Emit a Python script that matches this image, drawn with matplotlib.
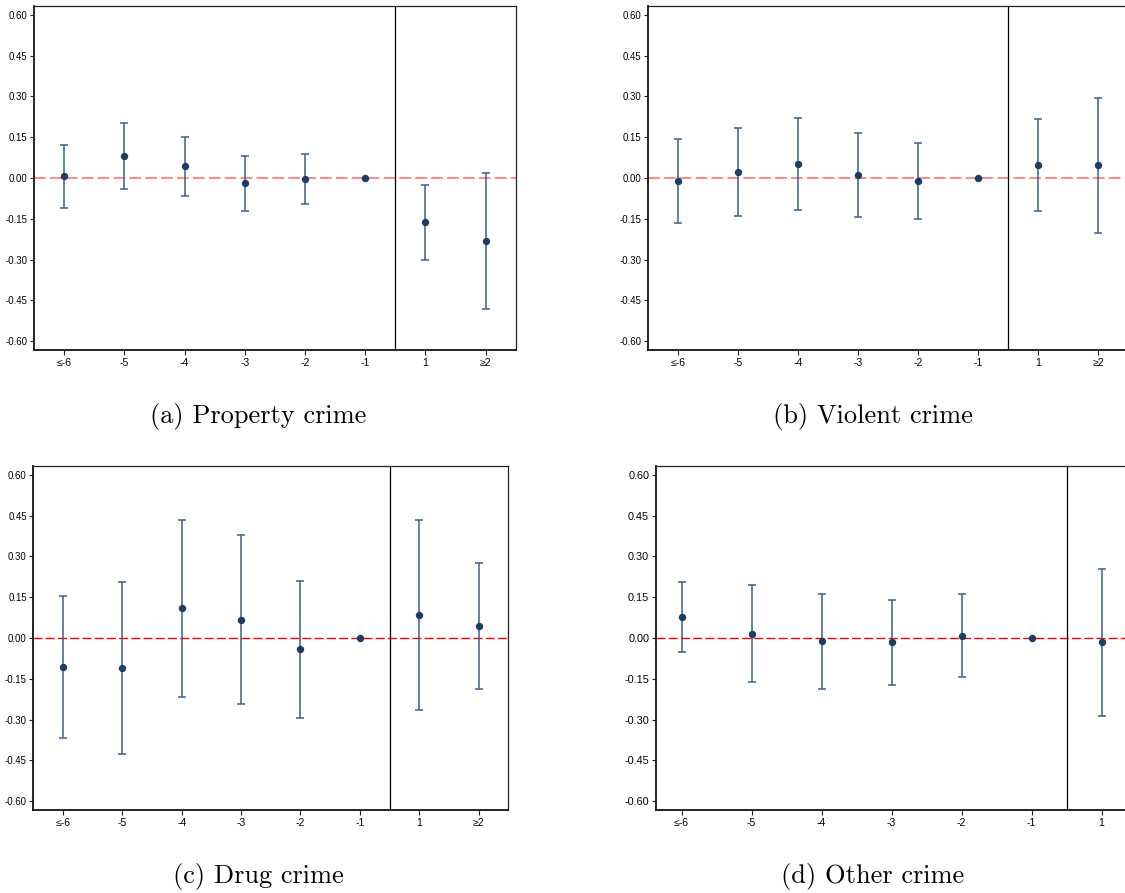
import matplotlib
matplotlib.use("Agg")
import matplotlib.pyplot as plt
import numpy as np

plt.rcParams['axes.unicode_minus'] = False

# ---------------- data ----------------
categories = ["≤-6", "-5", "-4", "-3", "-2", "-1", "1", "≥2"]
yticks = [-0.60, -0.45, -0.30, -0.15, 0.00, 0.15, 0.30, 0.45, 0.60]

property_est = [0.006, 0.080, 0.043, -0.020, -0.002, 0.0, -0.163, -0.232]
property_hi = [0.122, 0.201, 0.150, 0.082, 0.088, 0.0, -0.024, 0.018]
property_lo = [-0.111, -0.040, -0.065, -0.121, -0.094, 0.0, -0.300, -0.483]

violent_est = [-0.010, 0.022, 0.051, 0.011, -0.010, 0.0, 0.048, 0.046]
violent_hi = [0.145, 0.184, 0.221, 0.166, 0.130, 0.0, 0.216, 0.293]
violent_lo = [-0.165, -0.139, -0.118, -0.143, -0.150, 0.0, -0.120, -0.201]

drug_est = [-0.107, -0.110, 0.109, 0.067, -0.041, 0.0, 0.083, 0.045]
drug_hi = [0.155, 0.205, 0.434, 0.377, 0.210, 0.0, 0.432, 0.276]
drug_lo = [-0.368, -0.427, -0.216, -0.243, -0.293, 0.0, -0.266, -0.187]

other_est = [0.078, 0.016, -0.012, -0.016, 0.007, 0.0, -0.016]
other_hi = [0.207, 0.195, 0.163, 0.139, 0.161, 0.0, 0.255]
other_lo = [-0.051, -0.163, -0.187, -0.171, -0.145, 0.0, -0.285]

captions = ["(a) Property crime", "(b) Violent crime", "(c) Drug crime", "(d) Other crime"]

# ---------------- figure ----------------
W, H = 1125, 893
fig = plt.figure(figsize=(W / 100, H / 100), dpi=100)

def px_axes(left, top, right, bottom):
    return fig.add_axes([left / W, 1 - bottom / H, (right - left) / W, (bottom - top) / H])

MARK = '#1b3d63'
BAR = '#3d5f88'
TICKFONT = ['Liberation Sans', 'DejaVu Sans']


def panel(ax, est, hi, lo, xlim, fs, xfs, red_lw, red_col):
    n = len(est)
    x = np.arange(1, n + 1)
    est = np.array(est)
    hi = np.array(hi)
    lo = np.array(lo)
    ax.axhline(0, color=red_col, lw=red_lw, linestyle=(0, (6.5, 2.3)), zorder=1)
    ax.axvline(6.5, color='black', lw=0.9, zorder=1)
    mask = hi != lo
    ax.errorbar(x[mask], est[mask], yerr=[est[mask] - lo[mask], hi[mask] - est[mask]],
                fmt='none', ecolor=BAR, elinewidth=1.1, capsize=2.6, capthick=1.1, zorder=2)
    ax.plot(x, est, 'o', color=MARK, markersize=4.3, zorder=3, linestyle='none')
    ax.set_xlim(*xlim)
    ax.set_ylim(-0.632, 0.632)
    ax.set_xticks(x)
    ax.set_xticklabels(categories[:n], family=TICKFONT, fontsize=xfs)
    ax.set_yticks(yticks)
    ax.set_yticklabels([f"{v:.2f}" for v in yticks], family=TICKFONT, fontsize=fs)
    ax.tick_params(axis='y', length=3.2, width=0.8, pad=1.5, color='#222222')
    ax.tick_params(axis='x', length=3.6, width=0.8, pad=2.0, color='#222222')
    for s in ['left', 'bottom']:
        ax.spines[s].set_linewidth(1.3)
        ax.spines[s].set_color('#111111')
    for s in ['top', 'right']:
        ax.spines[s].set_linewidth(0.9)
        ax.spines[s].set_color('#222222')


ax_a = px_axes(34, 6, 515.7, 350)
panel(ax_a, property_est, property_hi, property_lo, (0.5, 8.5), 6.9, 7.5, 1.3, '#ff7f7f')

ax_b = px_axes(648, 6, 1128, 350)
panel(ax_b, violent_est, violent_hi, violent_lo, (0.5, 8.5), 6.9, 7.5, 1.3, '#ff7f7f')

ax_c = px_axes(33.3, 466, 508.3, 810)
panel(ax_c, drug_est, drug_hi, drug_lo, (0.5, 8.5), 6.9, 7.5, 1.0, '#ff0000')

ax_d = px_axes(655.7, 466, 1197.5, 810)
panel(ax_d, other_est, other_hi, other_lo, (0.63, 8.37), 7.8, 7.5, 1.0, '#ff0000')

cap_font = ['cmr10', 'DejaVu Serif']
fig.text(258.5 / W, 1 - 416 / H, captions[0], ha='center', va='center', fontsize=19, family=cap_font)
fig.text(873 / W, 1 - 416 / H, captions[1], ha='center', va='center', fontsize=19, family=cap_font)
fig.text(258.5 / W, 1 - 877 / H, captions[2], ha='center', va='center', fontsize=19, family=cap_font)
fig.text(873 / W, 1 - 877 / H, captions[3], ha='center', va='center', fontsize=19, family=cap_font)

fig.savefig("out.png", dpi=100)
